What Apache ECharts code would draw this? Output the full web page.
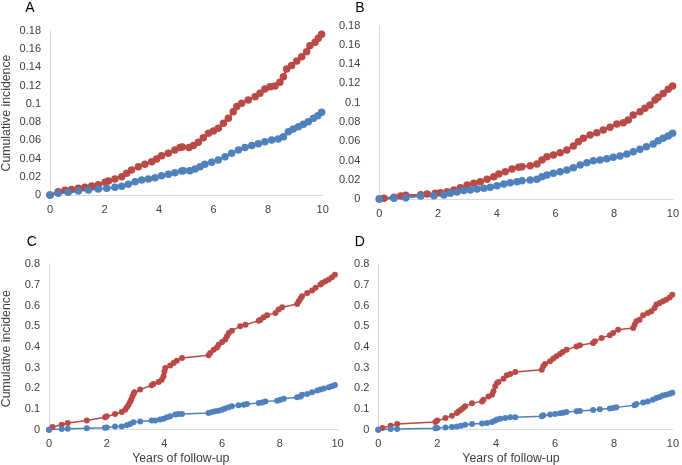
<!DOCTYPE html>
<html>
<head>
<meta charset="utf-8">
<script src="https://cdn.jsdelivr.net/npm/echarts@6/dist/echarts.min.js"></script>
<style>html,body{margin:0;padding:0;background:#fff}#c{width:682px;height:465px}</style>
</head>
<body>
<div id="c"></div>
<script>
// Panel A
const aRed = [[0,0],[0.3,0.0037],[0.55,0.0051],[0.79,0.0059],[1.04,0.0073],[1.28,0.0084],[1.53,0.0099],[1.77,0.0113],[2.02,0.0139],[2.14,0.0154],[2.38,0.0176],[2.63,0.0201],[2.81,0.0238],[2.99,0.0274],[3.24,0.0311],[3.48,0.0337],[3.73,0.0366],[3.91,0.0395],[4.09,0.0432],[4.34,0.0457],[4.58,0.0494],[4.77,0.052],[4.85,0.0527],[5.1,0.052],[5.26,0.0542],[5.44,0.0578],[5.62,0.0629],[5.81,0.0677],[5.99,0.0703],[6.17,0.0732],[6.36,0.0787],[6.54,0.0842],[6.72,0.0915],[6.85,0.097],[7.03,0.1006],[7.27,0.1043],[7.52,0.1079],[7.7,0.1116],[7.88,0.1164],[8.07,0.1189],[8.25,0.1196],[8.43,0.1237],[8.56,0.1299],[8.68,0.1383],[8.86,0.142],[9.05,0.1471],[9.23,0.1518],[9.41,0.1573],[9.53,0.1639],[9.72,0.1676],[9.84,0.172],[9.96,0.1764]];
const aBlue = [[0,0],[0.3,0.0018],[0.67,0.0029],[1.04,0.0044],[1.41,0.0055],[1.77,0.0066],[2.08,0.0073],[2.38,0.0084],[2.63,0.0095],[2.87,0.0117],[3.12,0.0146],[3.36,0.0165],[3.61,0.0176],[3.85,0.019],[4.09,0.0212],[4.34,0.0227],[4.58,0.0245],[4.83,0.0263],[4.89,0.0267],[5.13,0.0267],[5.32,0.0285],[5.5,0.0311],[5.68,0.0337],[5.93,0.0359],[6.17,0.0384],[6.42,0.0421],[6.66,0.0457],[6.91,0.0494],[7.15,0.052],[7.4,0.0542],[7.64,0.0563],[7.88,0.0585],[8.13,0.0604],[8.37,0.0615],[8.56,0.064],[8.74,0.0695],[8.92,0.0724],[9.11,0.075],[9.29,0.0776],[9.47,0.0805],[9.66,0.0842],[9.82,0.0871],[9.96,0.0907]];
// Panel B
const bRed = [[0,0],[0.16,0.0007],[0.5,0.0017],[0.73,0.0031],[0.9,0.0038],[1.41,0.0045],[1.63,0.0052],[1.91,0.0059],[2.08,0.0066],[2.31,0.0076],[2.54,0.0093],[2.76,0.0118],[2.99,0.0145],[3.22,0.0163],[3.44,0.018],[3.67,0.0204],[3.9,0.0232],[4.07,0.026],[4.29,0.0284],[4.52,0.0312],[4.75,0.0329],[4.86,0.0336],[5.14,0.0346],[5.37,0.0363],[5.54,0.0405],[5.71,0.044],[5.93,0.0457],[6.16,0.0481],[6.39,0.0509],[6.61,0.055],[6.78,0.0595],[6.95,0.063],[7.18,0.0665],[7.41,0.0689],[7.63,0.0717],[7.86,0.0744],[8.09,0.0779],[8.31,0.0793],[8.48,0.082],[8.65,0.0872],[8.88,0.0907],[9.05,0.0942],[9.22,0.0976],[9.39,0.1028],[9.5,0.1056],[9.67,0.1097],[9.84,0.1139],[9.99,0.1173]];
const bBlue = [[0,0],[0.5,0.0007],[0.9,0.0014],[1.41,0.0031],[1.86,0.0035],[2.2,0.0042],[2.42,0.0059],[2.65,0.0073],[2.88,0.0087],[3.1,0.0093],[3.33,0.0104],[3.56,0.0111],[3.78,0.0121],[4.01,0.0138],[4.24,0.0156],[4.46,0.017],[4.69,0.018],[4.86,0.019],[5.14,0.0197],[5.37,0.0204],[5.54,0.0232],[5.71,0.0249],[5.93,0.0267],[6.16,0.0284],[6.39,0.0301],[6.61,0.0325],[6.84,0.0353],[7.07,0.0377],[7.29,0.0398],[7.52,0.0405],[7.75,0.0419],[7.97,0.0433],[8.2,0.0447],[8.43,0.0467],[8.65,0.0491],[8.88,0.0516],[9.1,0.0543],[9.33,0.0571],[9.5,0.0606],[9.67,0.063],[9.84,0.0654],[9.99,0.0682]];
// Panel C
const cRed = [[0,0],[0.12,0.013],[0.44,0.024],[0.65,0.032],[1.31,0.044],[1.94,0.06],[2.0,0.065],[2.29,0.076],[2.52,0.086],[2.64,0.097],[2.7,0.108],[2.76,0.121],[2.81,0.134],[2.85,0.145],[2.89,0.161],[2.93,0.173],[2.96,0.181],[3.16,0.194],[3.56,0.215],[3.62,0.221],[3.8,0.231],[3.91,0.242],[3.97,0.258],[4.0,0.282],[4.03,0.298],[4.2,0.311],[4.32,0.323],[4.43,0.334],[4.61,0.347],[5.53,0.36],[5.59,0.371],[5.71,0.387],[5.82,0.398],[5.88,0.411],[6.0,0.424],[6.11,0.436],[6.17,0.452],[6.23,0.468],[6.34,0.479],[6.63,0.5],[6.81,0.508],[7.27,0.527],[7.33,0.532],[7.44,0.544],[7.56,0.553],[7.85,0.565],[7.96,0.581],[8.08,0.592],[8.6,0.608],[8.66,0.621],[8.72,0.634],[8.77,0.645],[8.95,0.661],[9.12,0.673],[9.24,0.686],[9.41,0.702],[9.47,0.71],[9.58,0.718],[9.7,0.726],[9.81,0.737],[9.91,0.75]];
const cBlue = [[0,0],[0.44,0.003],[0.65,0.005],[1.31,0.007],[1.94,0.01],[2.0,0.011],[2.29,0.015],[2.52,0.016],[2.7,0.021],[2.81,0.028],[2.93,0.036],[3.16,0.04],[3.56,0.044],[3.68,0.045],[3.85,0.049],[3.97,0.053],[4.09,0.06],[4.2,0.065],[4.38,0.073],[4.49,0.076],[4.61,0.076],[5.53,0.081],[5.65,0.086],[5.76,0.089],[5.88,0.092],[6.0,0.097],[6.11,0.102],[6.23,0.108],[6.34,0.113],[6.57,0.118],[6.75,0.121],[6.86,0.124],[7.27,0.129],[7.39,0.132],[7.5,0.137],[7.91,0.14],[8.02,0.145],[8.14,0.15],[8.6,0.157],[8.72,0.161],[8.77,0.169],[8.95,0.173],[9.12,0.181],[9.3,0.189],[9.41,0.194],[9.53,0.199],[9.7,0.205],[9.81,0.21],[9.91,0.216]];
// Panel D
const dRed = [[0,0],[0.14,0.008],[0.42,0.0195],[0.64,0.028],[1.94,0.037],[2.0,0.044],[2.28,0.057],[2.5,0.068],[2.67,0.081],[2.73,0.089],[2.81,0.097],[2.88,0.105],[2.95,0.113],[3.18,0.128],[3.52,0.137],[3.57,0.145],[3.74,0.161],[3.86,0.169],[3.91,0.186],[3.97,0.21],[4.03,0.226],[4.08,0.231],[4.25,0.247],[4.36,0.263],[4.48,0.269],[4.65,0.279],[5.55,0.29],[5.6,0.307],[5.66,0.318],[5.83,0.331],[5.94,0.344],[6.05,0.355],[6.17,0.366],[6.26,0.376],[6.39,0.387],[6.73,0.403],[6.84,0.408],[7.29,0.419],[7.35,0.428],[7.58,0.444],[7.86,0.457],[7.97,0.468],[8.14,0.484],[8.65,0.492],[8.7,0.508],[8.76,0.524],[8.87,0.532],[8.99,0.553],[9.15,0.565],[9.27,0.573],[9.38,0.589],[9.44,0.605],[9.55,0.613],[9.66,0.621],[9.77,0.629],[9.89,0.64],[9.98,0.653]];
const dBlue = [[0,0],[0.42,0.003],[0.64,0.003],[1.94,0.007],[2.0,0.008],[2.28,0.011],[2.5,0.013],[2.67,0.016],[2.81,0.019],[2.95,0.024],[3.18,0.028],[3.52,0.03],[3.69,0.032],[3.86,0.037],[3.97,0.044],[4.03,0.049],[4.14,0.053],[4.31,0.057],[4.48,0.06],[4.65,0.06],[5.55,0.065],[5.6,0.07],[5.83,0.073],[6.0,0.076],[6.17,0.079],[6.28,0.082],[6.39,0.086],[6.73,0.089],[6.84,0.09],[7.29,0.095],[7.52,0.099],[7.86,0.102],[7.97,0.105],[8.08,0.108],[8.7,0.118],[8.76,0.124],[8.99,0.132],[9.15,0.137],[9.32,0.145],[9.44,0.153],[9.55,0.158],[9.66,0.165],[9.77,0.169],[9.89,0.174],[9.98,0.179]];

const panelLetters = ['A','B','C','D'];
const yTitle = 'Cumulative incidence';
const xTitle = 'Years of follow-up';

const RED = '#BA4A46', BLUE = '#4F81BD';
const TXT = '#404040', AX = '#D9D9D9';
const FONT = '"Liberation Sans", Arial, sans-serif';

const grids = [
  {left: 50, top: 31, width: 272.7, height: 164},
  {left: 379.3, top: 25.7, width: 294.4, height: 173.3},
  {left: 49, top: 264.3, width: 288.5, height: 165.4},
  {left: 378.3, top: 264.3, width: 295.7, height: 165.4}
];
const yMax = [0.18, 0.18, 0.8, 0.8];
const yInt = [0.02, 0.02, 0.1, 0.1];
const yMargin = [9, 19, 9, 9];
const symSize = [7.5, 7.5, 6, 6];
const lineW = [2, 2, 1.5, 1.5];

const fmt = v => String(+v.toFixed(2));

const xAxis = grids.map((g, i) => ({
  gridIndex: i, type: 'value', min: 0, max: 10, interval: 2,
  axisLine: {show: true, lineStyle: {color: AX, width: 1}},
  axisTick: {show: false}, splitLine: {show: false},
  axisLabel: {color: TXT, fontSize: 11, fontFamily: FONT, margin: 9}
}));
const yAxis = grids.map((g, i) => ({
  gridIndex: i, type: 'value', min: 0, max: yMax[i], interval: yInt[i],
  axisLine: {show: true, lineStyle: {color: AX, width: 1}},
  axisTick: {show: false}, splitLine: {show: false},
  axisLabel: {color: TXT, fontSize: 11, fontFamily: FONT, margin: yMargin[i], formatter: fmt}
}));

const mk = (data, color, i) => ({
  type: 'line', xAxisIndex: i, yAxisIndex: i, data: data,
  symbol: 'circle', symbolSize: symSize[i], showSymbol: true,
  lineStyle: {color: color, width: lineW[i]},
  itemStyle: {color: color, borderWidth: 0},
  animation: false, silent: true
});

const series = [
  mk(aRed, RED, 0), mk(aBlue, BLUE, 0),
  mk(bRed, RED, 1), mk(bBlue, BLUE, 1),
  mk(cRed, RED, 2), mk(cBlue, BLUE, 2),
  mk(dRed, RED, 3), mk(dBlue, BLUE, 3)
];

const letterPos = [[30, 8], [360, 8], [31.7, 242], [359.7, 242]];
const graphic = [];
panelLetters.forEach((t, i) => graphic.push({
  type: 'text', x: letterPos[i][0], y: letterPos[i][1],
  style: {text: t, fill: '#000', font: '14px ' + FONT, textAlign: 'center', textVerticalAlign: 'middle'}
}));
[[7, 113], [7, 348.7]].forEach(p => graphic.push({
  type: 'text', x: p[0], y: p[1], rotation: Math.PI / 2,
  style: {text: yTitle, fill: TXT, font: '12.3px ' + FONT, textAlign: 'center', textVerticalAlign: 'middle'}
}));
[[180.8, 459], [511, 459]].forEach(p => graphic.push({
  type: 'text', x: p[0], y: p[1],
  style: {text: xTitle, fill: TXT, font: '12.3px ' + FONT, textAlign: 'center', textVerticalAlign: 'middle'}
}));

const chart = echarts.init(document.getElementById('c'), null, {renderer: 'canvas'});
chart.setOption({
  backgroundColor: '#fff',
  animation: false,
  grid: grids,
  xAxis: xAxis,
  yAxis: yAxis,
  series: series,
  graphic: graphic
});
</script>
</body>
</html>
